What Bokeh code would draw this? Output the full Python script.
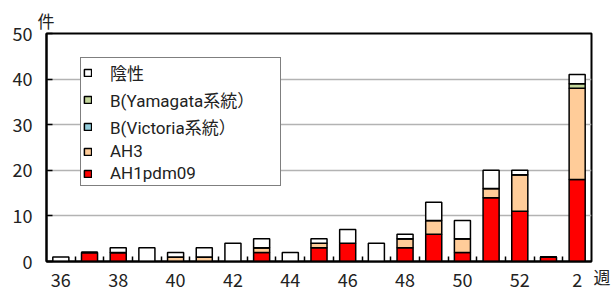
from bokeh.plotting import figure
from bokeh.models import Range1d, FixedTicker, Legend, LegendItem, Title, LinearAxis
from bokeh.embed import file_html
from bokeh.resources import INLINE

weeks = ["36", "37", "38", "39", "40", "41", "42", "43", "44", "45", "46",
         "47", "48", "49", "50", "51", "52", "1", "2"]
ah1pdm09 = [0, 2, 2, 0, 0, 0, 0, 2, 0, 3, 4, 0, 3, 6, 2, 14, 11, 1, 18]
ah3 = [0, 0, 0, 0, 1, 1, 0, 1, 0, 1, 0, 0, 2, 3, 3, 2, 8, 0, 20]
b_victoria = [0] * 19
b_yamagata = [0] * 18 + [1]
negative = [1, 0, 1, 3, 1, 2, 4, 2, 2, 1, 3, 4, 1, 4, 4, 4, 1, 0, 2]

series_names = ["AH1pdm09", "AH3", "B(Victoria系統）", "B(Yamagata系統）", "陰性"]
series_keys = ["ah1", "ah3", "vic", "yam", "neg"]
colors = ["#FF0000", "#FFCC99", "#92CDDC", "#C4D79B", "#FFFFFF"]
y_ticks = [0, 10, 20, 30, 40, 50]
y_unit = "件"
x_unit = "週"

FONT = "Noto Sans CJK JP"
LEG_FONT = "Roboto, 'Noto Sans CJK JP'"
TXT = "#222222"

x = list(range(len(weeks)))
data = dict(x=x, ah1=ah1pdm09, ah3=ah3, vic=b_victoria, yam=b_yamagata, neg=negative)

p = figure(width=613, height=291, output_backend="svg", toolbar_location=None,
           x_range=Range1d(-0.5, len(weeks) - 0.5), y_range=Range1d(0, 50))
p.min_border_left = 46
p.min_border_right = 21
p.min_border_top = 33
p.min_border_bottom = 30

renderers = p.vbar_stack(series_keys, x="x", width=0.56, source=data,
                         fill_color=colors, line_color="black", line_width=1.5)

# axes
p.yaxis.ticker = FixedTicker(ticks=y_ticks)
p.yaxis.major_tick_in = 6
p.yaxis.major_tick_out = 0
p.yaxis.axis_line_width = 2
p.yaxis.major_tick_line_width = 1.5
p.yaxis.major_label_standoff = 14

minor = [i + 0.5 for i in range(len(weeks) - 1)]
p.xaxis.ticker = FixedTicker(ticks=x[::2], minor_ticks=minor)
p.xaxis.major_label_overrides = {i: weeks[i] for i in x[::2]}
p.xaxis.major_tick_in = 0
p.xaxis.major_tick_out = 0
p.xaxis.minor_tick_in = 5
p.xaxis.minor_tick_out = 0
p.xaxis.minor_tick_line_width = 1.5
p.xaxis.axis_line_width = 2
p.xaxis.major_label_standoff = 11

for ax in (p.xaxis, p.yaxis):
    ax.axis_line_color = "black"
    ax.major_tick_line_color = "black"
    ax.major_label_text_font = FONT
    ax.major_label_text_font_size = "18px"
    ax.major_label_text_color = TXT
p.xaxis.minor_tick_line_color = "black"
p.yaxis.minor_tick_line_color = None

p.xgrid.grid_line_color = None
p.ygrid.grid_line_color = "#B3B3B3"
p.ygrid.grid_line_width = 1.5
p.ygrid.ticker = FixedTicker(ticks=y_ticks[1:-1])

p.outline_line_color = "black"
p.outline_line_width = 2
p.outline_line_alpha = 1

# unit label for the value axis (top-left)
p.add_layout(Title(text=y_unit, align="left", offset=-9, standoff=2,
                   text_font=FONT, text_font_size="17px", text_font_style="normal",
                   text_color=TXT), "above")

# unit label for the week axis (bottom-right): a label-only axis on the right
unit_axis = LinearAxis(ticker=FixedTicker(ticks=[0]),
                       major_label_overrides={0: "\n" + x_unit},
                       axis_line_color=None, major_tick_line_color=None,
                       minor_tick_line_color=None, major_tick_in=0, major_tick_out=0,
                       minor_tick_in=0, minor_tick_out=0, major_label_standoff=2,
                       major_label_text_font=FONT, major_label_text_font_size="17px",
                       major_label_text_color=TXT)
p.add_layout(unit_axis, "right")

items = [LegendItem(label=n, renderers=[r]) for n, r in zip(series_names, renderers)][::-1]
legend = Legend(items=items, location=(34, 75), padding=2, spacing=2,
                label_height=20, glyph_height=9, glyph_width=9, label_standoff=18,
                label_width=168,
                label_text_font=LEG_FONT, label_text_font_size="17px", label_text_color=TXT,
                border_line_color="black", border_line_width=1.5,
                background_fill_color="white", background_fill_alpha=1)
p.add_layout(legend, "center")

open("out.html", "w").write(file_html(p, INLINE))
